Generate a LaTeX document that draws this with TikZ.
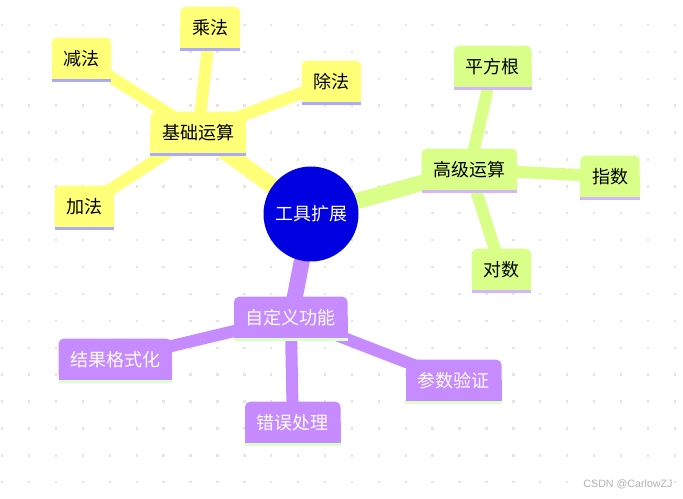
\documentclass[tikz,border=0pt]{standalone}
\usepackage{fontspec}
\usetikzlibrary{backgrounds}
\newfontfamily\cjk{Noto Sans CJK SC}
\newfontfamily\wmfont{Liberation Sans}
\definecolor{yelfill}{HTML}{FFFF78}
\definecolor{yelline}{HTML}{AAAAFF}
\definecolor{grnfill}{HTML}{DAFF88}
\definecolor{grnline}{HTML}{D5B5FF}
\definecolor{purfill}{HTML}{C58BFF}
\definecolor{purline}{HTML}{DDFFCC}
\definecolor{rootfill}{HTML}{0000E0}
\definecolor{dotgray}{HTML}{E4E4E4}
\tikzset{
  mmbox/.style={rectangle, inner xsep=8.6pt, inner ysep=0pt,
                minimum height=30.75pt,
                font=\cjk\fontsize{13.5pt}{16pt}\selectfont},
  yelbox/.style={mmbox, text=black},
  grnbox/.style={mmbox, text=black},
  purbox/.style={mmbox, text=white},
  rootnode/.style={circle, fill=rootfill, minimum size=71.25pt, inner sep=0pt,
                   text=white, font=\cjk\fontsize{13.5pt}{16pt}\selectfont},
  rootedge/.style={line width=12pt},
  leafedge/.style={line width=9pt}
}

\begin{document}
\begin{tikzpicture}[x=0.75pt,y=-0.75pt]
  \useasboundingbox (0,0) rectangle (683,499);

  % Root
  \node[rootnode] (gongju) at (311,214) {工具扩展};

  % Yellow branch
  \node[yelbox] (jichu) at (198.2,132.5) {基础运算};
  \node[yelbox] (cheng) at (210.2,27.5) {乘法};
  \node[yelbox] (jian)  at (81.5,58.5) {减法};
  \node[yelbox] (chu)   at (331.3,81.5) {除法};
  \node[yelbox] (jia)   at (84.3,206.5) {加法};

  % Green branch
  \node[grnbox] (gaoji)    at (469.3,169.5) {高级运算};
  \node[grnbox] (pingfang) at (492.8,66.5) {平方根};
  \node[grnbox] (zhishu)   at (610,176.5) {指数};
  \node[grnbox] (duishu)   at (501.3,269.5) {对数};

  % Purple branch
  \node[purbox] (zidingyi) at (290.8,317.5) {自定义功能};
  \node[purbox] (jieguo)   at (115.3,359.5) {结果格式化};
  \node[purbox] (cuowu)    at (292.8,422.5) {错误处理};
  \node[purbox] (canshu)   at (453.8,380.5) {参数验证};

  \node[text=black!30, font=\wmfont\fontsize{8pt}{9pt}\selectfont] (mark) at (628,484) {CSDN @CarlowZJ};

  \begin{scope}[on background layer]
    % dot grid
    \foreach \i in {0,...,25}
      \foreach \j in {0,...,17}
        \fill[dotgray] ({2.2+26.9*\i-1.2},{25+26.9*\j-1.2}) rectangle ++(2.4,2.4);

    % edges
    \foreach \a/\b/\c in {gongju/jichu/yelfill, gongju/gaoji/grnfill, gongju/zidingyi/purfill}
      \draw[rootedge, \c] (\a.center) -- (\b.center);
    \foreach \a/\b/\c in {jichu/cheng/yelfill, jichu/jian/yelfill, jichu/chu/yelfill, jichu/jia/yelfill,
                          gaoji/pingfang/grnfill, gaoji/zhishu/grnfill, gaoji/duishu/grnfill,
                          zidingyi/jieguo/purfill, zidingyi/cuowu/purfill, zidingyi/canshu/purfill}
      \draw[leafedge, \c] (\a.center) -- (\b.center);

    % boxes with underline
    \foreach \n/\c/\u in {jichu/yelfill/yelline, cheng/yelfill/yelline, jian/yelfill/yelline,
                          chu/yelfill/yelline, jia/yelfill/yelline,
                          gaoji/grnfill/grnline, pingfang/grnfill/grnline,
                          zhishu/grnfill/grnline, duishu/grnfill/grnline,
                          zidingyi/purfill/purline, jieguo/purfill/purline,
                          cuowu/purfill/purline, canshu/purfill/purline}{
      \fill[\c, rounded corners=3.75pt] (\n.south west) rectangle (\n.north east);
      \fill[\c] (\n.south west) rectangle (\n.east);
      \fill[\u] (\n.south west) rectangle ([yshift=-2.25pt]\n.south east);
    }
  \end{scope}
\end{tikzpicture}
\end{document}
